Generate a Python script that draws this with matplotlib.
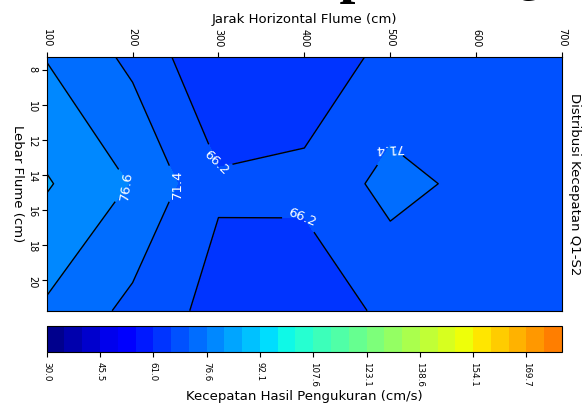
import numpy as np
import matplotlib
matplotlib.use("Agg")
import matplotlib.pyplot as plt

# Measurement grid (cm)
x_cm = [100, 200, 300, 400, 500, 600, 700]
y_cm = [7.25, 14.5, 21.75]

# Measured velocities (cm/s) per row of the flume width
v_top = [76.3, 70.15, 61.5, 62.9, 67.6, 68.0, 68.0]
v_mid = [82.2, 76.25, 66.9, 67.5, 73.0, 70.1, 69.0]
v_bot = [75.8, 70.0, 64.3, 62.7, 67.5, 68.0, 68.0]

level_min, level_max, n_levels = 30.0, 180.0, 30
color_vmax = 220.0

heading = "Distribusi Kecepatan Q1-S2"
title_right = "Distribusi Kecepatan Q1-S2"
xlabel = "Jarak Horizontal Flume (cm)"
ylabel = "Lebar Flume (cm)"
cbar_label = "Kecepatan Hasil Pengukuran (cm/s)"

Z = np.array([v_top, v_mid, v_bot])
X, Y = np.meshgrid(x_cm, y_cm)
levels = np.linspace(level_min, level_max, n_levels)
lab_idx = [7, 8, 9]
levels_lab = levels[lab_idx]
levels_other = np.array([lv for i, lv in enumerate(levels) if i not in lab_idx])

fig = plt.figure(figsize=(5.86, 4.05), dpi=100)
ax = fig.add_axes([0.0797, 0.2328, 0.8794, 0.6272])

cf = ax.contourf(X, Y, Z, levels=levels, cmap="jet", vmin=level_min, vmax=color_vmax)
ax.contour(X, Y, Z, levels=levels_other, colors="k", linewidths=1.0)
cs = ax.contour(X, Y, Z, levels=levels_lab, colors="k", linewidths=1.0)

ax.set_xlim(min(x_cm), max(x_cm))
ax.set_ylim(max(y_cm), min(y_cm))

ax.xaxis.tick_top()
ax.xaxis.set_label_position("top")
ax.set_xlabel(xlabel, fontsize=9.5)
ax.tick_params(axis="x", labelrotation=-90, labelsize=7)
ax.tick_params(axis="y", labelrotation=-90, labelsize=7)
ax.set_ylabel(ylabel, rotation=-90, va="top", fontsize=9.5, labelpad=2)

ax.text(1.012, 0.5, title_right, rotation=-90, va="center", ha="left",
        transform=ax.transAxes, fontsize=9.5)

label_pos = [(190, 14.5), (252, 14.5), (297, 13.3), (397, 16.4), (498, 12.5)]
texts = ax.clabel(cs, manual=label_pos, fmt="%1.1f", colors="white",
                  fontsize=9.5, inline=True)
if len(texts):
    texts[-1].set_rotation(183)

cax = fig.add_axes([0.0797, 0.1309, 0.8794, 0.0640])
cb = fig.colorbar(cf, cax=cax, orientation="horizontal", ticks=levels[::3], format="%.1f")
cb.ax.tick_params(labelrotation=-90, labelsize=6.3)
cb.set_label(cbar_label, fontsize=9.5, labelpad=2.5)

# Large document heading above the chart, mostly cut off by the top edge
fig.text(0.519, 1 + 8 / 405, heading, ha="center", va="baseline", fontsize=41,
         family=["Liberation Serif", "DejaVu Serif"], fontweight="bold")

fig.savefig("out.png", dpi=100)
